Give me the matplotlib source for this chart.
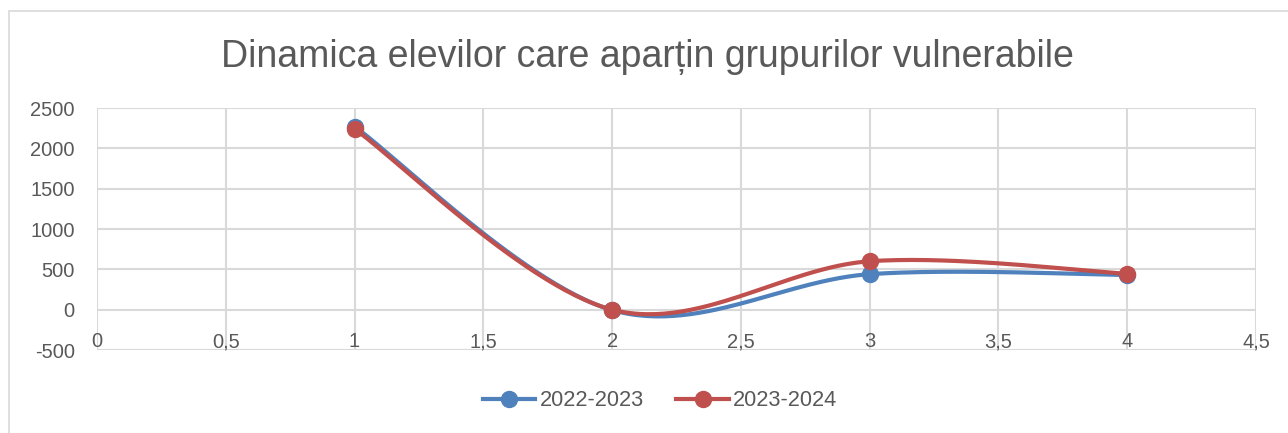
import numpy as np
import matplotlib
matplotlib.use("Agg")
import matplotlib.pyplot as plt
from matplotlib.patches import Rectangle
from matplotlib.lines import Line2D

title = "Dinamica elevilor care aparțin grupurilor vulnerabile"
x_vals = [1, 2, 3, 4]
series_names = ["2022-2023", "2023-2024"]
values_2022_2023 = [2270, -5, 440, 430]
values_2023_2024 = [2240, 0, 600, 445]
colors = ["#4F81BD", "#C0504D"]
x_ticks = [0, 0.5, 1, 1.5, 2, 2.5, 3, 3.5, 4, 4.5]
x_tick_labels = ["0", "0,5", "1", "1,5", "2", "2,5", "3", "3,5", "4", "4,5"]
y_ticks = [-500, 0, 500, 1000, 1500, 2000, 2500]

TEXT = "#595959"
GRID = "#D9D9D9"
FONT = "Liberation Sans"


def smooth(xs, ys, n=60):
    """Excel-like smoothing: cubic Bezier with Catmull-Rom control points."""
    xs = np.asarray(xs, float)
    ys = np.asarray(ys, float)
    out_x, out_y = [], []
    m = len(xs)
    t = np.linspace(0, 1, n)
    for i in range(m - 1):
        p0 = np.array([xs[max(i - 1, 0)], ys[max(i - 1, 0)]])
        p1 = np.array([xs[i], ys[i]])
        p2 = np.array([xs[i + 1], ys[i + 1]])
        p3 = np.array([xs[min(i + 2, m - 1)], ys[min(i + 2, m - 1)]])
        c1 = p1 + (p2 - p0) / 6.0
        c2 = p2 - (p3 - p1) / 6.0
        bx = ((1 - t) ** 3) * p1[0] + 3 * ((1 - t) ** 2) * t * c1[0] + 3 * (1 - t) * t ** 2 * c2[0] + t ** 3 * p2[0]
        by = ((1 - t) ** 3) * p1[1] + 3 * ((1 - t) ** 2) * t * c1[1] + 3 * (1 - t) * t ** 2 * c2[1] + t ** 3 * p2[1]
        out_x.extend(bx)
        out_y.extend(by)
    return np.array(out_x), np.array(out_y)


W, H = 1288, 433
fig = plt.figure(figsize=(W / 100, H / 100), dpi=100)
fig.patch.set_facecolor("white")

# chart border
fig.patches.append(Rectangle((9 / W, -0.1), 1.2, 1 - 11 / H + 0.1, transform=fig.transFigure,
                             fill=False, edgecolor=GRID, linewidth=1.2))

ax = fig.add_axes([97 / W, 1 - 350 / H, (1256 - 97) / W, (350 - 108) / H])
ax.set_xlim(0, 4.5)
ax.set_ylim(-500, 2500)
ax.set_xticks(x_ticks)
ax.set_yticks(y_ticks)
ax.grid(True, color=GRID, linewidth=1.5)
ax.set_axisbelow(True)
for s in ax.spines.values():
    s.set_visible(False)
ax.tick_params(axis="both", length=0)
ax.tick_params(axis="y", pad=16, labelsize=14.5, labelcolor=TEXT)
ax.set_yticklabels([str(v) for v in y_ticks], fontfamily=FONT)
ax.set_xticklabels([])

for xv, lab in zip(x_ticks, x_tick_labels):
    ax.annotate(lab, (xv, -500), xytext=(0, 3), textcoords="offset pixels",
                ha="center", va="baseline", fontsize=14.5, color=TEXT, fontfamily=FONT)

for name, vals, c in zip(series_names, [values_2022_2023, values_2023_2024], colors):
    sx, sy = smooth(x_vals, vals)
    ax.plot(sx, sy, color=c, linewidth=3.0, solid_capstyle="round", zorder=3)
    ax.plot(x_vals, vals, linestyle="none", marker="o", markersize=11.5, color=c, zorder=4)

fig.text(0.5 + 3 / W, 1 - 67 / H, title, ha="center", va="baseline", fontsize=27,
         color=TEXT, fontfamily=FONT)

handles = [Line2D([0], [0], color=c, linewidth=3.0, marker="o", markersize=11.5) for c in colors]
leg = fig.legend(handles, series_names, loc="center", bbox_to_anchor=(0.5 + 16 / W, 1 - 401 / H),
                 ncol=2, frameon=False, handlelength=2.4, columnspacing=1.5, handletextpad=0.2,
                 prop={"family": FONT, "size": 15.7})
for t in leg.get_texts():
    t.set_color(TEXT)

fig.savefig("out.png", dpi=100, facecolor="white")
